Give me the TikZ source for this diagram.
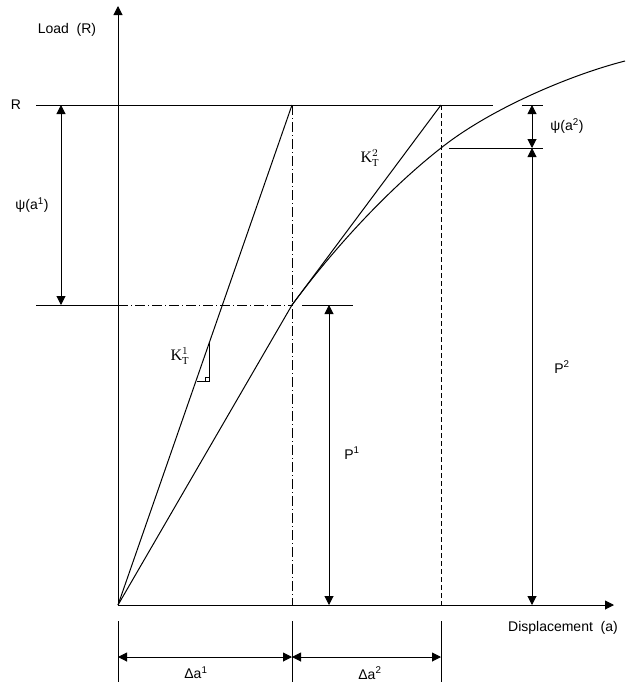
\documentclass[tikz,border=0pt]{standalone}
\usepackage{fontspec}
\setmainfont{Liberation Sans}
\setmathrm{Liberation Serif}
\usetikzlibrary{arrows.meta}

\tikzset{
  tip/.style={-{Triangle[length=6.75pt,width=6.75pt]}},
  dimline/.style={{Triangle[length=6.75pt,width=6.75pt]}-{Triangle[length=6.75pt,width=6.75pt]}},
  chainline/.style={dash pattern=on 7.5pt off 2.25pt on 0.75pt off 2.25pt},
  shortdash/.style={dash pattern=on 3.75pt off 2.25pt},
  lbl/.style={font=\fontsize{10.5}{12}\selectfont, inner sep=0pt},
  stiff/.style={font=\fontsize{12}{14}\selectfont, inner sep=0pt},
}

\begin{document}
\begin{tikzpicture}[x=0.75pt,y=-0.75pt,line width=0.75pt]
    \useasboundingbox (0,0) rectangle (628,686);

    % points on the chart
    \coordinate (O) at (118,605);
    \coordinate (ytip) at (118,6);
    \coordinate (xtip) at (614,605);
    \coordinate (A1) at (292,105);
    \coordinate (A2) at (441,105);
    \coordinate (C1) at (292,305);
    \coordinate (C2) at (441,148);

    % axes
    \draw[tip] (O) -- (ytip);
    \draw[tip] (O) -- (xtip);
    \node[lbl] (load) at (67,30) {Load~~(R)};
    \node[lbl] (disp) at (563,628) {Displacement~~(a)};
    \node[lbl] (rlab) at (16,105) {R};

    % load levels
    \draw (36,105) -- (493,105);
    \draw (36,305) -- (O |- C1);
    \draw[chainline] (O |- C1) -- (C1);
    \draw (302,305) -- (353,305);
    \draw (449,148) -- (543,148);
    \draw (522,105) -- (543,105);

    % displacement levels
    \draw[chainline] (A1) -- (A1 |- O);
    \draw[shortdash] (A2) -- (A2 |- O);

    % tangent stiffness and load curve
    \draw (O) -- (A1);
    \draw (C1) -- (A2);
    \draw (O) -- (C1) .. controls (340,240) and (395,184) .. (C2)
        .. controls (490,109) and (570,75) .. (625,61);

    \draw (197,381) -- (209,381) -- (209,343);
    \draw (205,381) -- (205,377) -- (209,377);
    \node[stiff] (k1) at (180,356) {$\mathrm{K}_\mathrm{T}^1$};
    \node[stiff] (k2) at (370,158) {$\mathrm{K}_\mathrm{T}^2$};

    % residuals and loads
    \draw[dimline] (61,105) -- (61,305);
    \node[lbl] (psi1) at (32,205) {ψ(a\textsuperscript{1})};
    \draw[dimline] (532,105) -- (532,148);
    \node[lbl] (psi2) at (567,126) {ψ(a\textsuperscript{2})};
    \draw[dimline] (532,148) -- (532,605);
    \node[lbl] (p2) at (562,367) {P\textsuperscript{2}};
    \draw[dimline] (329,305) -- (329,605);
    \node[lbl] (p1) at (352,453) {P\textsuperscript{1}};

    % increments
    \coordinate (d0) at (118,657);
    \coordinate (d1) at (292,657);
    \coordinate (d2) at (441,657);
    \draw (118,621) -- (118,682);
    \draw (292,621) -- (292,682);
    \draw (441,621) -- (441,682);
    \draw[dimline] (d0) -- (d1);
    \draw[dimline] (d1) -- (d2);
    \node[lbl] (da1) at (196,673) {Δa\textsuperscript{1}};
    \node[lbl] (da2) at (370,673) {Δa\textsuperscript{2}};
\end{tikzpicture}
\end{document}
